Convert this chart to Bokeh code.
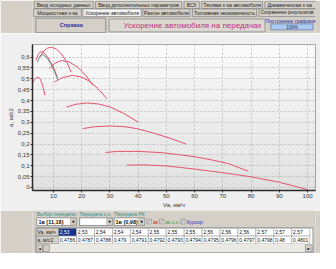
from bokeh.plotting import figure
from bokeh.layouts import column
from bokeh.models import Range1d, FixedTicker, Label, BoxAnnotation
from bokeh.core.properties import value
from bokeh.embed import file_html
from bokeh.resources import INLINE

FONT = "Liberation Sans"

# ---------------- chart data (speed km/h, acceleration m/s2) ----------------
gear1_v = [2.53, 3.3, 4.0, 4.65, 5.4, 6.2, 7.0]
gear1_a = [0.479, 0.497, 0.506, 0.508, 0.497, 0.470, 0.424]
gear2_v = [3.85, 4.6, 5.5, 6.5, 8.0, 9.8, 11.5]
gear2_a = [0.585, 0.612, 0.625, 0.622, 0.600, 0.560, 0.505]
gear3_v = [5.2, 6.5, 8.0, 9.3, 11.0, 13.0, 14.8, 16.3]
gear3_a = [0.600, 0.628, 0.642, 0.645, 0.638, 0.612, 0.575, 0.531]
gear4_v = [8.7, 10.5, 12.8, 15.5, 18.5, 21.5, 24.0]
gear4_a = [0.546, 0.572, 0.584, 0.578, 0.555, 0.515, 0.470]
gear5_v = [10.45, 13.0, 16.8, 20.0, 22.6, 26.0, 29.0]
gear5_a = [0.485, 0.505, 0.516, 0.508, 0.490, 0.452, 0.408]
gear6_v = [14.6, 18.0, 22.0, 26.0, 30.2, 35.0, 40.0]
gear6_a = [0.370, 0.383, 0.389, 0.384, 0.370, 0.340, 0.301]
gear7_v = [20.4, 25.0, 30.2, 35.0, 39.5, 45.0, 51.0, 57.0]
gear7_a = [0.271, 0.280, 0.283, 0.280, 0.271, 0.252, 0.228, 0.200]
gear8_v = [28.5, 32.6, 40.0, 48.6, 55.0, 60.3, 66.0, 71.9, 79.0]
gear8_a = [0.161, 0.166, 0.166, 0.160, 0.150, 0.141, 0.127, 0.110, 0.075]
gear9_v = [36.0, 42.0, 49.9, 55.0, 60.3, 70.0, 80.0, 90.0, 100.0]
gear9_a = [0.103, 0.104, 0.099, 0.092, 0.084, 0.068, 0.049, 0.024, -0.010]
green_v = [4.3, 5.2, 6.2, 7.5, 9.0, 10.5, 11.6]
green_a = [0.575, 0.603, 0.612, 0.600, 0.570, 0.530, 0.495]

x_ticks = [10, 20, 30, 40, 50, 60, 70, 80, 90, 100]
x_tick_labels = ["10", "20", "30", "40", "50", "60", "70", "80", "90", "100"]
y_ticks = [0, 0.05, 0.1, 0.15, 0.2, 0.25, 0.3, 0.35, 0.4, 0.45, 0.5, 0.55, 0.6]
y_tick_labels = ["0", "0,05", "0,1", "0,15", "0,2", "0,25", "0,3", "0,35", "0,4",
                 "0,45", "0,5", "0,55", "0,6"]

# ---------------- UI texts ----------------
tabs_row1 = ["Ввод исходных данных", "Ввод дополнительных параметров", "ВСХ",
             "Тяговая х-ка автомобиля", "Динамическая х-ка"]
tabs_row2 = ["Мощностная х-ка", "Ускорение автомобиля", "Разгон автомобиля",
             "Топливная экономичность", "Сохранение результатов"]
title_text = "Ускорение автомобиля на передачах"
table_va = [2.53, 2.53, 2.54, 2.54, 2.54, 2.55, 2.55, 2.55, 2.56, 2.56, 2.56, 2.57, 2.57, 2.57]
table_a = [0.4786, 0.4787, 0.4788, 0.479, 0.4791, 0.4792, 0.4793, 0.4794, 0.4795,
           0.4796, 0.4797, 0.4798, 0.48, 0.4801]

GRAY = "#d4d0c8"


def ui_fig(h, y0, y1):
    f = figure(width=320, height=h, x_range=Range1d(0, 336), y_range=Range1d(y1, y0),
               output_backend="svg", toolbar_location=None, min_border=0,
               x_axis_location=None, y_axis_location=None)
    f.grid.visible = False
    f.outline_line_color = None
    f.background_fill_color = GRAY
    f.border_fill_color = GRAY
    return f


def txt(f, x, y, t, size="5px", color="#202020", align="left", style="normal", font=FONT):
    f.text(x=[x], y=[y], text=[t], text_font=value(font), text_font_size=size,
           text_color=color, text_align=align, text_baseline="middle", text_font_style=style)


# ---------------- top bar ----------------
top = ui_fig(33, 0, 41)
r1_l = [2, 75, 180, 201, 276]
r1_r = [72, 177, 198, 273, 345]
top.quad(left=r1_l, right=r1_r, top=[1] * 5, bottom=[10] * 5, fill_color=GRAY,
         line_color="#8a8a8a", line_width=0.8)
for l, r, t in zip(r1_l, r1_r, tabs_row1):
    txt(top, (l + r) / 2 if r < 300 else l + 3, 5.5, t,
        align="center" if r < 300 else "left")
r2_l = [1, 60, 131, 190, 269]
r2_r = [58, 129, 187, 266, 345]
fills = [GRAY, "#f4f4f4", GRAY, GRAY, GRAY]
top.quad(left=r2_l, right=r2_r, top=[10.5] * 5, bottom=[20] * 5, fill_color=fills,
         line_color="#8a8a8a", line_width=0.8)
for l, r, t in zip(r2_l, r2_r, tabs_row2):
    if r < 300:
        txt(top, (l + r) / 2, 15.3, t, align="center")
    else:
        txt(top, l + 2, 15.3, t, size="4.6px")
# help button and title
top.quad(left=[4], right=[87], top=[22], bottom=[40], fill_color=GRAY,
         line_color="#808080", line_width=0.8)
txt(top, 46, 31, "Справка", size="5.5px", color="#3a2fa0", align="center", style="bold")
top.quad(left=[91], right=[276], top=[23], bottom=[39], fill_color="#dcd9d2",
         line_color="#8a8a8a", line_width=0.8)
txt(top, 190, 31.5, title_text, size="8px", color="#c0307c", align="center")
txt(top, 307, 25.5, "Построение графиков", size="5px", color="#1f2fa8", align="center")
top.quad(left=[283], right=[333], top=[29], bottom=[36.5], fill_color="#a9c9f0",
         line_color="#6c7fa8", line_width=0.8)
txt(top, 308, 33, "100%", size="4.5px", color="#203060", align="center")

# ---------------- chart ----------------
chart = figure(width=320, height=177, x_range=Range1d(2.6, 102.8),
               y_range=Range1d(-0.014, 0.658), output_backend="svg",
               toolbar_location=None, min_border_left=32, min_border_right=5,
               min_border_top=11, min_border_bottom=20)
chart.border_fill_color = "#efefef"
chart.background_fill_color = "#ececec"
chart.outline_line_color = "#8c8c8c"

band_cols = ["#fafafa", "#f6f6f6", "#f2f2f2", "#efefef", "#ececec", "#e9e9e9", "#e6e6e6", "#e2e2e2"]
y0, y1 = -0.014, 0.658
step = (y1 - y0) / len(band_cols)
for i, c in enumerate(band_cols):
    chart.add_layout(BoxAnnotation(top=y1 - i * step, bottom=y1 - (i + 1) * step,
                                   fill_color=c, fill_alpha=1, line_color=None,
                                   level="image"))

chart.xaxis.ticker = FixedTicker(ticks=x_ticks)
chart.yaxis.ticker = FixedTicker(ticks=y_ticks)
chart.xaxis.major_label_overrides = dict(zip(x_ticks, x_tick_labels))
chart.yaxis.major_label_overrides = dict(zip(y_ticks, y_tick_labels))
chart.xgrid.ticker = FixedTicker(ticks=x_ticks)
chart.ygrid.ticker = FixedTicker(ticks=y_ticks)
for g in (chart.xgrid, chart.ygrid):
    g.grid_line_color = "#b6b6b6"
    g.grid_line_dash = "2 2"
    g.grid_line_width = 0.8
for ax in (chart.xaxis, chart.yaxis):
    ax.axis_line_color = "#2a2a2a"
    ax.axis_line_width = 1.5
    ax.major_tick_out = 2
    ax.major_tick_in = 0
    ax.major_tick_line_color = "#2a2a2a"
    ax.minor_tick_line_color = None
    ax.major_label_text_font = FONT
    ax.major_label_text_font_size = "6px"
    ax.major_label_text_color = "#333333"
    ax.major_label_standoff = 1
    ax.axis_label_text_font = FONT
    ax.axis_label_text_font_size = "6px"
    ax.axis_label_text_font_style = "normal"
    ax.axis_label_text_color = "#333333"
    ax.axis_label_standoff = 1
chart.xaxis.axis_label = "Va, км/ч"
chart.yaxis.axis_label = "a, м/с2"

RED = "#e5526c"
for v, a in [(gear9_v, gear9_a), (gear8_v, gear8_a), (gear7_v, gear7_a), (gear6_v, gear6_a),
             (gear5_v, gear5_a), (gear4_v, gear4_a), (gear3_v, gear3_a), (gear2_v, gear2_a),
             (gear1_v, gear1_a)]:
    chart.line(v, a, line_color=RED, line_width=1)
chart.line(green_v, green_a, line_color="#6f9278", line_width=1)

chart.add_layout(Label(x=236, y=-15, x_units="screen", y_units="screen",
                       text="Сохранить в *.bmp", text_font=FONT, text_font_size="5px",
                       text_baseline="middle", text_color="#111111",
                       background_fill_color="#f6f6f6", border_line_color="#222222",
                       padding=2))

# ---------------- bottom controls ----------------
bot = ui_fig(43, 222, 269)
TEAL = "#2f8f8c"
txt(bot, 5, 225.5, "Выбор передачи:", color=TEAL)
txt(bot, 56, 225.5, "Передача з.х.", color=TEAL)
txt(bot, 97, 225.5, "Передача РК", color=TEAL)
# combos
cl = [5, 56, 97]
cr = [52, 95, 133]
bot.quad(left=cl, right=cr, top=[230] * 3, bottom=[238.5] * 3, fill_color="white",
         line_color="#808080", line_width=0.8)
bot.quad(left=[r - 7 for r in cr], right=cr, top=[230.5] * 3, bottom=[238] * 3,
         fill_color=GRAY, line_color="#9a9a9a", line_width=0.5)
for r in cr:
    txt(bot, r - 3.5, 234.3, "▼", size="3.5px", color="#222222", align="center", font="DejaVu Sans")
txt(bot, 7, 234.3, "1в (11,18)", size="5.5px", color="#111111", style="bold")
txt(bot, 98.5, 234.3, "1в (0,98)", size="5.5px", color="#111111", style="bold")
# checkboxes
cbx = [136, 151, 176]
bot.quad(left=cbx, right=[c + 5 for c in cbx], top=[231.5] * 3, bottom=[236.5] * 3,
         fill_color="white", line_color="#707070", line_width=0.6)
for c in cbx:
    txt(bot, c + 2.5, 234, "✓", size="5px", color="#111111", align="center", font="DejaVu Sans")
txt(bot, 143, 234.3, "ак", color="#d02020")
txt(bot, 158, 234.3, "ак с.х.", color="#3a9a3a")
txt(bot, 183, 234.3, "Курсор", color="#3333bb")
# table
bot.quad(left=[4], right=[333], top=[241], bottom=[268], fill_color="white",
         line_color="#808080", line_width=0.8)
bot.quad(left=[5, 5], right=[31, 31], top=[241.5, 250], bottom=[250, 258.5],
         fill_color=GRAY, line_color="#808080", line_width=0.6)
txt(bot, 6, 245.8, "Va, км/ч", size="5px")
txt(bot, 6, 254.3, "а, м/с2", size="5px")
cw = 21.3
lefts = [31 + i * cw for i in range(len(table_va))]
cell_fill = ["#14318c"] + ["white"] * (len(table_va) - 1)
bot.quad(left=lefts, right=[l + cw for l in lefts], top=[241.5] * len(lefts),
         bottom=[250] * len(lefts), fill_color=cell_fill, line_color="#9a9a9a", line_width=0.6)
bot.quad(left=lefts, right=[l + cw for l in lefts], top=[250] * len(lefts),
         bottom=[258.5] * len(lefts), fill_color="white", line_color="#9a9a9a", line_width=0.6)
for i, (l, v, a) in enumerate(zip(lefts, table_va, table_a)):
    txt(bot, l + 1.5, 245.8, f"{v:g}".replace(".", ","), size="5px",
        color="white" if i == 0 else "#111111")
    txt(bot, l + 1.5, 254.3, f"{a:g}".replace(".", ","), size="5px")
# scrollbar
bot.quad(left=[5], right=[332], top=[259], bottom=[267.5], fill_color="#ebe9e4",
         line_color=None)
bot.quad(left=[5, 13, 324], right=[12, 20, 332], top=[259.5] * 3, bottom=[267] * 3,
         fill_color=GRAY, line_color="#808080", line_width=0.6)
txt(bot, 8.5, 263.3, "◄", size="4px", color="#111111", align="center", font="DejaVu Sans")
txt(bot, 328, 263.3, "►", size="4px", color="#111111", align="center", font="DejaVu Sans")

layout = column(top, chart, bot, spacing=0)
open("out.html", "w").write(file_html(layout, INLINE))
